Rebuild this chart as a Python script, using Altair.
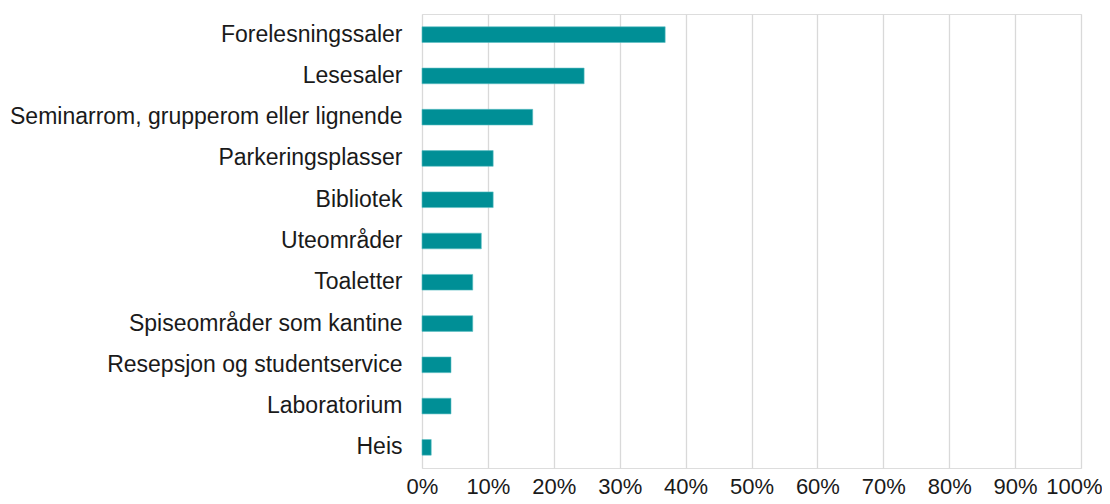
import altair as alt
import pandas as pd

categories = [
    "Forelesningssaler",
    "Lesesaler",
    "Seminarrom, grupperom eller lignende",
    "Parkeringsplasser",
    "Bibliotek",
    "Uteområder",
    "Toaletter",
    "Spiseområder som kantine",
    "Resepsjon og studentservice",
    "Laboratorium",
    "Heis",
]
values = [0.369, 0.246, 0.168, 0.108, 0.108, 0.090, 0.077, 0.077, 0.044, 0.044, 0.014]
x_ticks = [i / 10 for i in range(11)]

df = pd.DataFrame({"kategori": categories, "andel": values})

chart = (
    alt.Chart(df)
    .mark_bar(color="#008F96", stroke="#5CC0C5", strokeWidth=0.6)
    .encode(
        x=alt.X(
            "andel:Q",
            scale=alt.Scale(domain=[0, 1], nice=False, zero=True),
            axis=alt.Axis(
                format=".0%",
                values=x_ticks,
                title=None,
                domain=False,
                ticks=False,
                grid=True,
                gridColor="#D9D9D9",
                gridWidth=1.3,
                labelFont="Liberation Sans",
                labelFontSize=22,
                labelColor="#1a1a1a",
                labelPadding=8,
                labelFlush=False,
                labelOverlap=False,
                labelOffset={"condition": {"test": "datum.value >= 1", "value": -7}, "value": 0},
            ),
        ),
        y=alt.Y(
            "kategori:N",
            sort=categories,
            scale=alt.Scale(paddingInner=0.62, paddingOuter=0.31),
            axis=alt.Axis(
                title=None,
                domain=False,
                ticks=False,
                grid=False,
                labelFont="Liberation Sans",
                labelFontSize=23,
                labelColor="#1a1a1a",
                labelPadding=20,
                labelLimit=500,
            ),
        ),
    )
    .properties(
        width=659,
        height=454,
        autosize=alt.AutoSizeParams(type="none"),
        padding={"left": 414, "top": 6, "right": 21, "bottom": 34},
    )
    .configure_view(strokeWidth=0, strokeOpacity=0, stroke="transparent")
    .configure_axis(domain=False, ticks=False)
    .configure(background="white")
)

chart.save("out.html", embed_options={"renderer": "svg", "actions": False})
